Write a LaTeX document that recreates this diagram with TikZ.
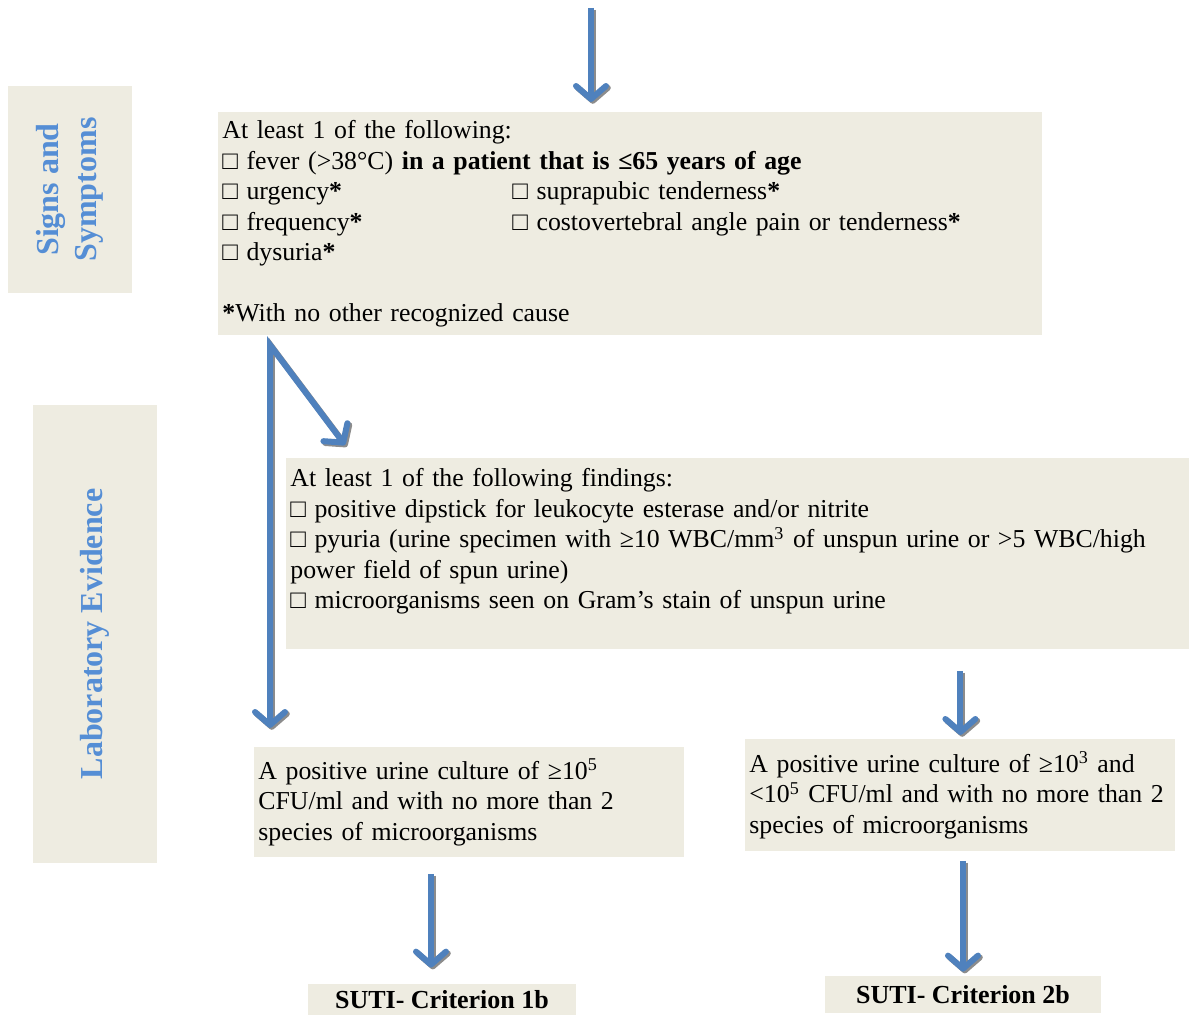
\documentclass[tikz,border=0pt]{standalone}
\usepackage{fontspec}
\setmainfont{Liberation Serif}
\usetikzlibrary{arrows.meta,positioning}
\definecolor{boxbg}{HTML}{EEECE1}
\definecolor{flowblue}{HTML}{4F81BD}
\definecolor{sidetext}{HTML}{558ED5}
\definecolor{shadowgray}{HTML}{8C8C8C}
\newcommand{\bx}{□}

\begin{document}
\begin{tikzpicture}[
  x=0.5pt, y=-0.5pt,
  font=\fontsize{12.9pt}{15.2pt}\selectfont,
  box/.style={fill=boxbg, anchor=north west, align=left,
              inner xsep=2pt, inner ysep=0pt},
  side/.style={fill=boxbg, rotate=90, align=center, inner sep=0pt,
               text=sidetext, minimum height=62pt,
               font=\fontsize{16pt}{19pt}\selectfont\bfseries},
  result/.style={fill=boxbg, inner sep=0pt,
                 font=\fontsize{13pt}{15.5pt}\selectfont\bfseries},
  flow/.style={line width=3pt, draw=flowblue,
               -{Straight Barb[length=6.5pt, width=15pt, round]},
               preaction={draw=shadowgray, line width=3pt,
                          transform canvas={xshift=0.9pt, yshift=-0.9pt}}},
]
  \useasboundingbox (0,0) rectangle (1189,1015);

  % side headings
  \node[side, minimum width=103.5pt] (signslabel) at (70,189.5) {Signs and\\Symptoms};
  \node[side, minimum width=229pt] (lablabel) at (95,634) {Laboratory Evidence};

  % criteria boxes
  \node[box, text width=408pt, minimum height=111.5pt] (signs) at (218,112)
    {At least 1 of the following:\\
     \bx{} fever (>38°C) \textbf{in a patient that is ≤65 years of age}\\
     \makebox[145pt][l]{\bx{} urgency\textbf{*}}\bx{} suprapubic tenderness\textbf{*}\\
     \makebox[145pt][l]{\bx{} frequency\textbf{*}}\bx{} costovertebral angle pain or tenderness\textbf{*}\\
     \bx{} dysuria\textbf{*}\\[15.2pt]
     \textbf{*}With no other recognized cause};
  \node[box, text width=447.5pt, minimum height=95.5pt] (findings) at (286,458)
    {At least 1 of the following findings:\\
     \bx{} positive dipstick for leukocyte esterase and/or nitrite\\
     \bx{} pyuria (urine specimen with ≥10 WBC/mm\textsuperscript{3} of unspun urine or >5 WBC/high\\
     power field of spun urine)\\
     \bx{} microorganisms seen on Gram's stain of unspun urine\\ ~};
  \node[box, text width=211pt, minimum height=55pt] (cult1) at (254,747)
    {A positive urine culture of ≥10\textsuperscript{5}\\
     CFU/ml and with no more than 2\\
     species of microorganisms};
  \node[box, text width=211pt, minimum height=56pt] (cult2) at (745,739)
    {A positive urine culture of ≥10\textsuperscript{3} and\\
     <10\textsuperscript{5} CFU/ml and with no more than 2\\
     species of microorganisms};

  % outcomes
  \node[result, minimum width=134pt, minimum height=15.5pt] (crit1) at (442,999.5) {SUTI- Criterion 1b};
  \node[result, minimum width=138pt, minimum height=18.5pt] (crit2) at (963,994.5) {SUTI- Criterion 2b};

  % arrows
  \coordinate (start) at (591,8);
  \coordinate (split) at (270,345);
  \coordinate (diagtip) at (345,445);
  \coordinate (drop1) at ([xshift=-5.5pt]crit1.north);
  \draw[flow, shorten >=5pt] (start) -- (signs.north -| start);
  \draw[flow, {Straight Barb[length=6.5pt, width=15pt, round]}-{Straight Barb[length=6.5pt, width=15pt, round]},
        shorten >=9.5pt]
    (diagtip) -- (split) -- (split |- cult1.north);
  \draw[flow, shorten <=10.5pt, shorten >=2pt] (findings.south -| cult2.north) -- (cult2.north);
  \draw[flow, shorten <=8pt, shorten >=8pt] (cult1.south -| drop1) -- (drop1);
  \draw[flow, shorten <=4.5pt, shorten >=2pt] (cult2.south -| crit2.north) -- (crit2.north);
\end{tikzpicture}
\end{document}
